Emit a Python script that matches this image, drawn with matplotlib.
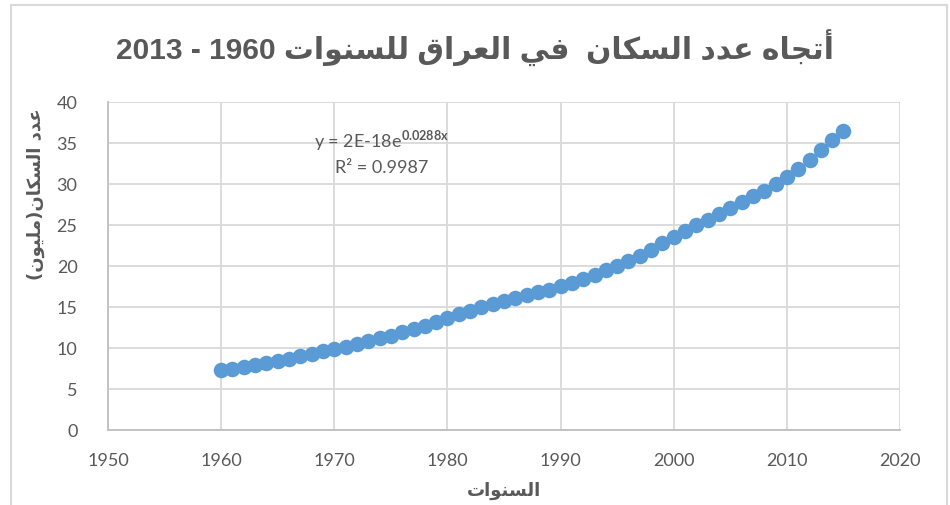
import numpy as np
import matplotlib
matplotlib.use('Agg')
import matplotlib.pyplot as plt
from matplotlib.patches import Rectangle

# data (population of Iraq, millions)
years = list(range(1960, 2016))
population = [7.25, 7.42, 7.62, 7.87, 8.12, 8.37, 8.62, 8.93, 9.22, 9.54,
              9.84, 10.13, 10.47, 10.81, 11.14, 11.47, 11.87, 12.24, 12.66, 13.15,
              13.65, 14.11, 14.51, 14.93, 15.33, 15.73, 16.06, 16.43, 16.76, 17.07,
              17.49, 17.89, 18.38, 18.90, 19.48, 20.00, 20.54, 21.15, 21.95, 22.75,
              23.52, 24.20, 24.96, 25.61, 26.30, 27.00, 27.73, 28.46, 29.15, 29.96,
              30.78, 31.79, 32.93, 34.11, 35.33, 36.39]
x_ticks = [1950, 1960, 1970, 1980, 1990, 2000, 2010, 2020]
y_ticks = [0, 5, 10, 15, 20, 25, 30, 35, 40]

title_text = 'أتجاه عدد السكان  في العراق للسنوات 1960 - 2013'
xlabel_text = 'السنوات'
ylabel_text = 'عدد السكان(مليون)'
eq_text = r'y = 2E-18e$^{\mathbf{0.0288x}}$'
r2_text = 'R² = 0.9987'

# --- tiny Arabic shaper (matplotlib has no complex text layout) -----------------
FORMS = {  # isolated, final, initial, medial
    'ا': (0xFE8D, 0xFE8E, None, None), 'أ': (0xFE83, 0xFE84, None, None),
    'ت': (0xFE95, 0xFE96, 0xFE97, 0xFE98), 'ج': (0xFE9D, 0xFE9E, 0xFE9F, 0xFEA0),
    'د': (0xFEA9, 0xFEAA, None, None), 'ر': (0xFEAD, 0xFEAE, None, None),
    'س': (0xFEB1, 0xFEB2, 0xFEB3, 0xFEB4), 'ع': (0xFEC9, 0xFECA, 0xFECB, 0xFECC),
    'ف': (0xFED1, 0xFED2, 0xFED3, 0xFED4), 'ق': (0xFED5, 0xFED6, 0xFED7, 0xFED8),
    'ك': (0xFED9, 0xFEDA, 0xFEDB, 0xFEDC), 'ل': (0xFEDD, 0xFEDE, 0xFEDF, 0xFEE0),
    'م': (0xFEE1, 0xFEE2, 0xFEE3, 0xFEE4), 'ن': (0xFEE5, 0xFEE6, 0xFEE7, 0xFEE8),
    'ه': (0xFEE9, 0xFEEA, 0xFEEB, 0xFEEC), 'و': (0xFEED, 0xFEEE, None, None),
    'ي': (0xFEF1, 0xFEF2, 0xFEF3, 0xFEF4),
}
MIRROR = {'(': ')', ')': '('}


def shape(text):
    out = []
    for i, ch in enumerate(text):
        if ch not in FORMS:
            out.append(ch)
            continue
        prev = text[i - 1] if i > 0 else ''
        nxt = text[i + 1] if i + 1 < len(text) else ''
        join_prev = prev in FORMS and FORMS[prev][2] is not None
        join_next = nxt in FORMS and FORMS[ch][2] is not None
        iso, fin, ini, med = FORMS[ch]
        if join_prev and join_next:
            code = med
        elif join_prev:
            code = fin
        elif join_next:
            code = ini
        else:
            code = iso
        out.append(chr(code))
    s = ''.join(out)
    # visual order: reverse runs, keep digit runs left-to-right
    runs, cur = [], ''
    for ch in s:
        if cur and (ch.isdigit() != cur[-1].isdigit()):
            runs.append(cur)
            cur = ''
        cur += ch
    runs.append(cur)
    vis = []
    for r in reversed(runs):
        if r[0].isdigit():
            vis.append(r)
        else:
            vis.append(''.join(MIRROR.get(c, c) for c in reversed(r)))
    return ''.join(vis)


plt.rcParams['font.family'] = ['Lato', 'DejaVu Sans']
plt.rcParams['mathtext.fontset'] = 'custom'
plt.rcParams['mathtext.rm'] = 'Lato'
plt.rcParams['mathtext.bf'] = 'Lato:bold'

fig = plt.figure(figsize=(9.5, 5.06), dpi=100)
ax = fig.add_axes([0.1137, 0.1488, 0.8337, 0.6482])

ax.scatter(years, population, s=125, color='#5B9BD5', zorder=3, linewidths=0)

ax.set_xlim(1950, 2020)
ax.set_ylim(0, 40)
ax.set_xticks(x_ticks)
ax.set_yticks(y_ticks)
ax.grid(color='#D9D9D9', linewidth=1.3)
ax.set_axisbelow(True)
for side in ['top', 'right']:
    ax.spines[side].set_visible(False)
for side in ['left', 'bottom']:
    ax.spines[side].set_color('#BFBFBF')
    ax.spines[side].set_linewidth(1.3)
ax.tick_params(length=0, labelsize=13, labelcolor='#595959')
ax.tick_params(axis='y', pad=22)
ax.tick_params(axis='x', pad=16)

ax.set_xlabel(shape(xlabel_text), family='DejaVu Sans', fontweight='bold',
              fontsize=13, color='#595959')
ax.xaxis.set_label_coords(0.5, -0.155)
ax.set_ylabel(shape(ylabel_text), family='DejaVu Sans', fontweight='bold',
              fontsize=13, color='#595959')
ax.yaxis.set_label_coords(-0.08, 0.72)

fig.text(0.5, 0.905, shape(title_text), family=['Liberation Sans', 'DejaVu Sans'],
         fontweight='bold', fontsize=21.5, color='#595959', ha='center', va='center')

ax.text(0.345, 0.885, eq_text, transform=ax.transAxes, ha='center', va='center',
        fontsize=13, color='#595959')
ax.text(0.345, 0.80, r2_text, transform=ax.transAxes, ha='center', va='center',
        fontsize=13, color='#595959')

# chart border
fig.patches.append(Rectangle((11 / 950, -0.05), 936 / 950, 1 - 6 / 506 + 0.05,
                             transform=fig.transFigure, fill=False,
                             edgecolor='#D9D9D9', linewidth=1.5))

fig.savefig('out.png', dpi=100)
